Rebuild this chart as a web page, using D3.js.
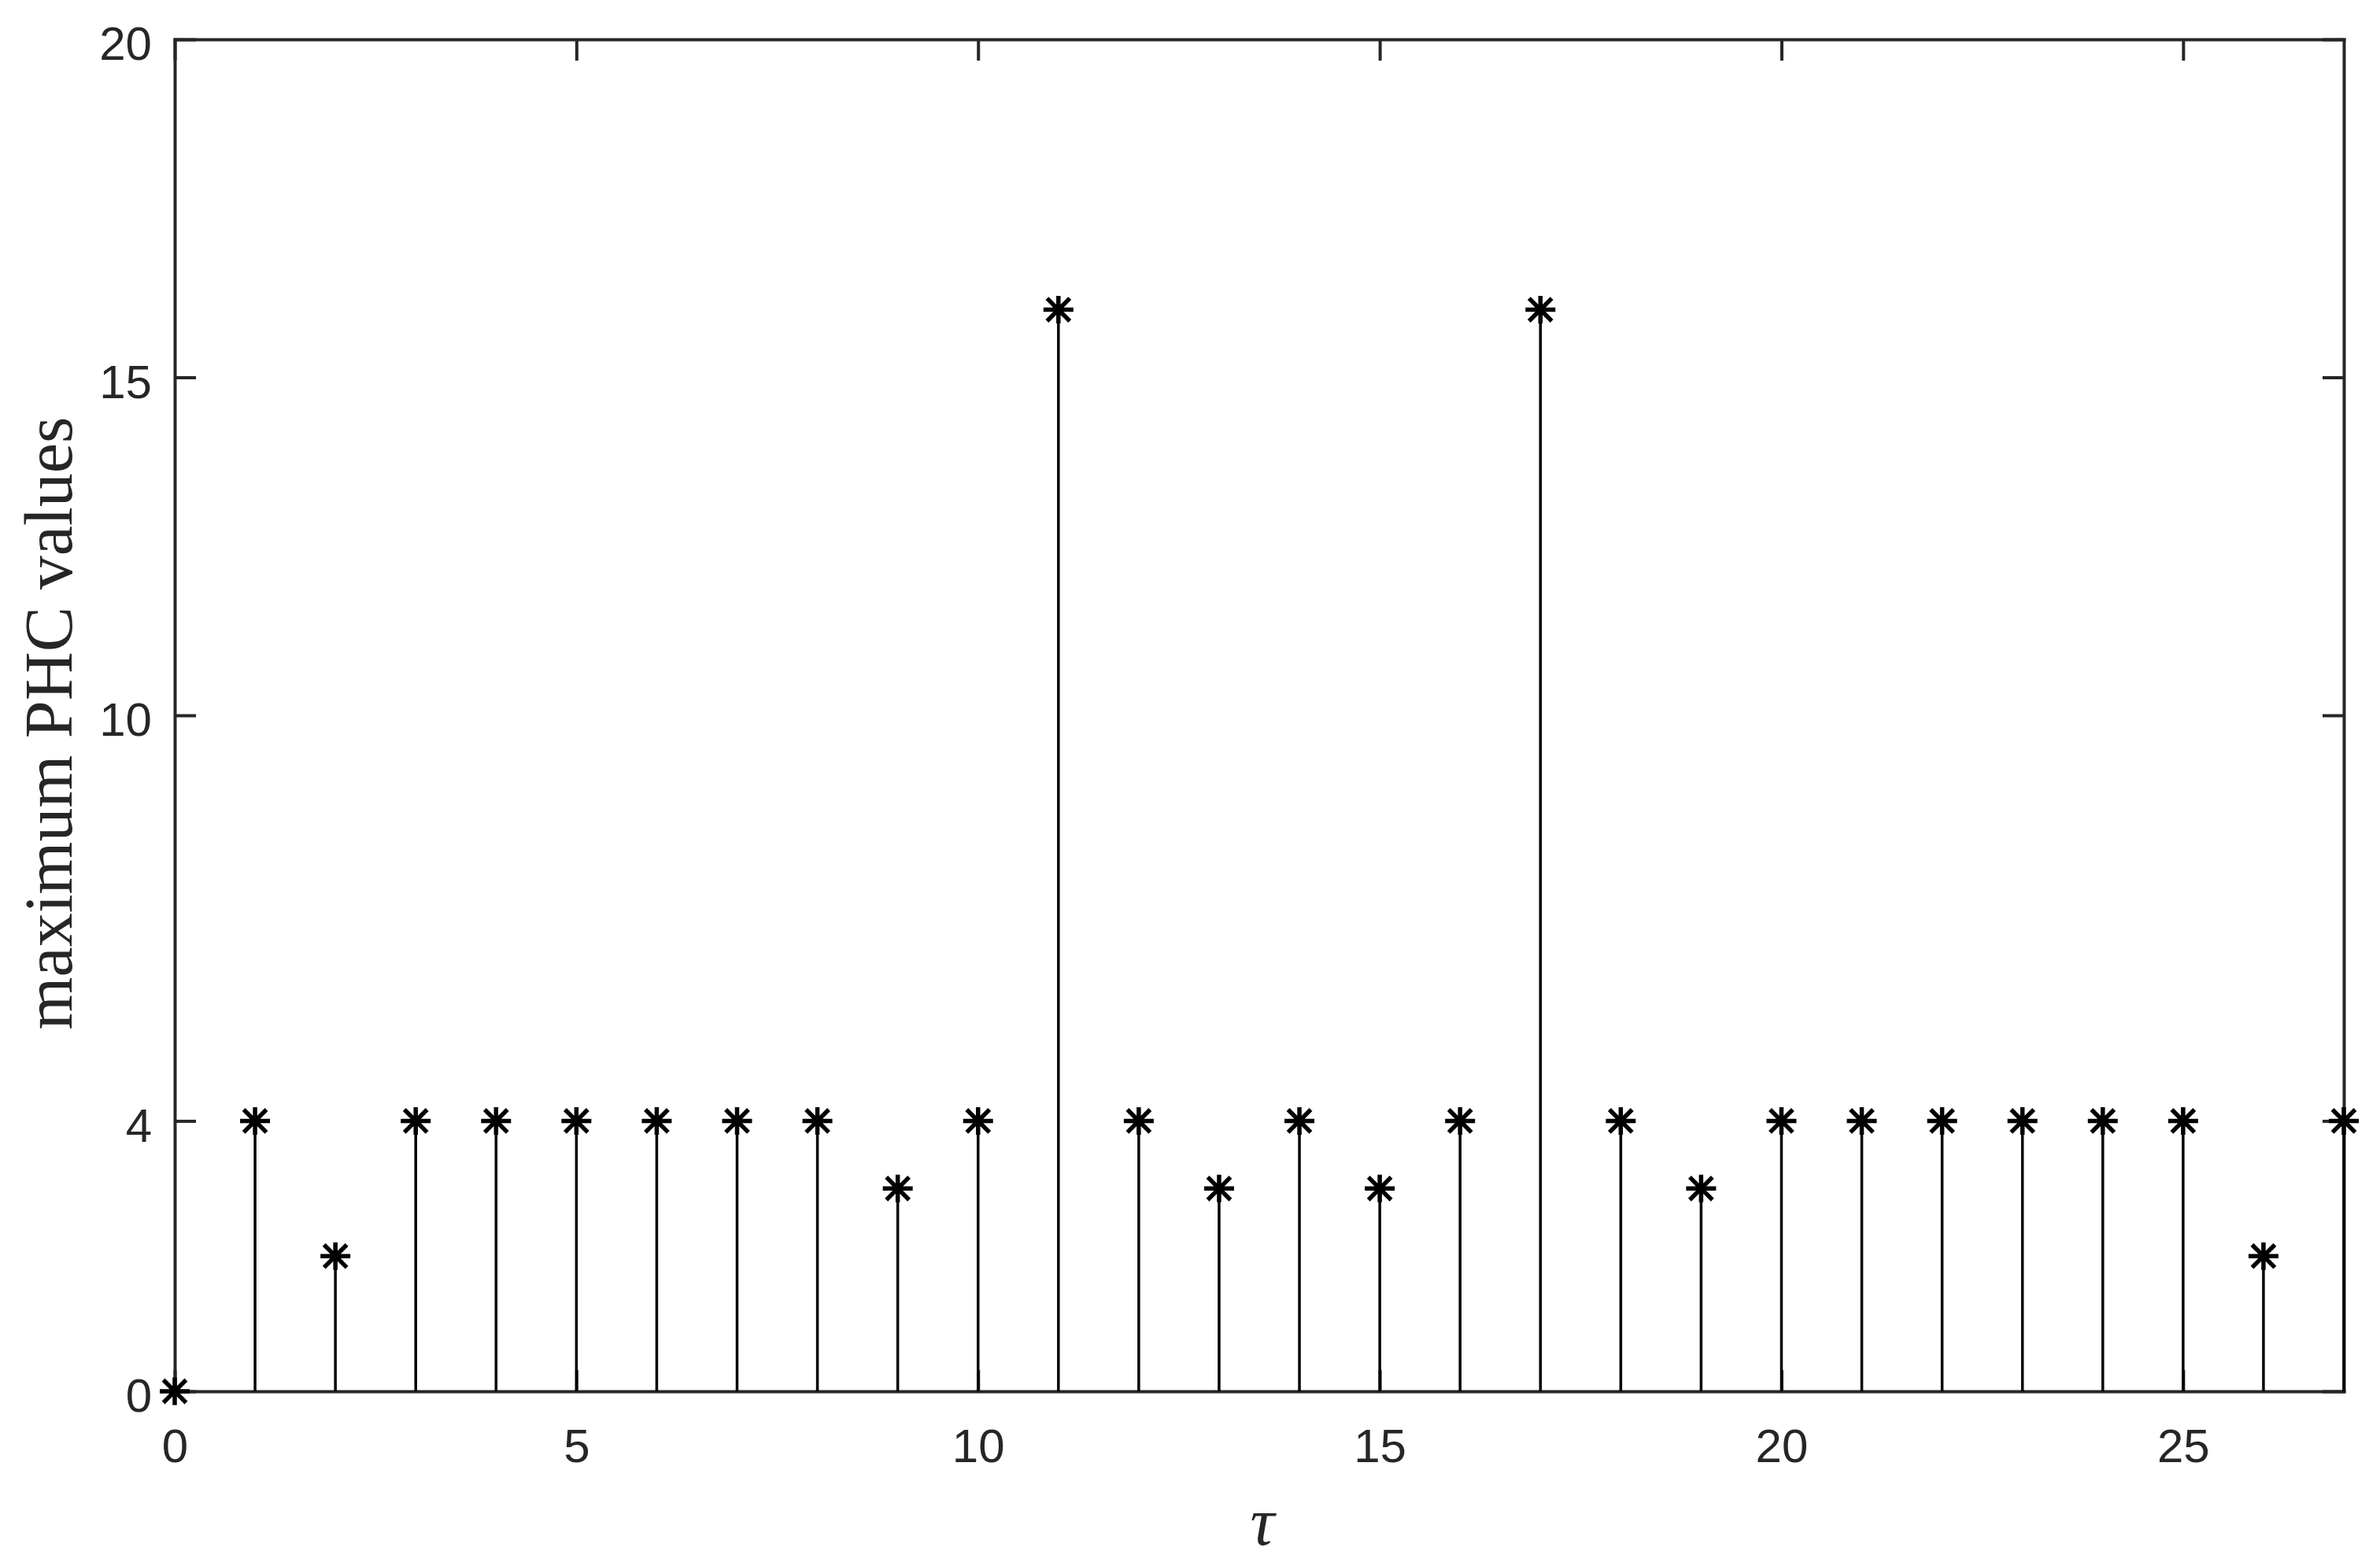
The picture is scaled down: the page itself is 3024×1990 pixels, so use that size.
<!DOCTYPE html>
<html>
<head>
<meta charset="utf-8">
<script src="https://cdn.jsdelivr.net/npm/d3@7"></script>
<style>
  body { margin: 0; background: #fff; }
  .tick text { font-family: "Liberation Sans", Arial, sans-serif; font-size: 60px; fill: #262626; }
</style>
</head>
<body>
<div id="plotholder"></div>
<script>
// lag values and the stem heights
const TAU = [0, 1, 2, 3, 4, 5, 6, 7, 8, 9, 10, 11, 12, 13, 14, 15, 16, 17, 18, 19, 20, 21, 22, 23, 24, 25, 26, 27]
const PHC = [0, 4, 2, 4, 4, 4, 4, 4, 4, 3, 4, 16, 4, 3, 4, 3, 4, 16, 4, 3, 4, 4, 4, 4, 4, 4, 2, 4]
const XTICKS = [0, 5, 10, 15, 20, 25]
const YTICKS = [0, 4, 10, 15, 20]
const XDOMAIN = [0, 27]
const YDOMAIN = [0, 20]

const W = 3024, H = 1990
const margin = { left: 222, right: 46, top: 50, bottom: 222 }
const AXCOL = '#262626'
const TICKLEN = 27

const svg = d3.select('#plotholder').append('svg')
  .attr('width', W)
  .attr('height', H)
  .style('background-color', '#fff')

const x = d3.scaleLinear().domain(XDOMAIN).range([margin.left, W - margin.right])
const y = d3.scaleLinear().domain(YDOMAIN).range([H - margin.bottom, margin.top])

const styleaxis = g => {
  g.select('.domain').attr('stroke', AXCOL).attr('stroke-width', 4).attr('stroke-linecap', 'square')
  g.selectAll('.tick line').attr('stroke', AXCOL).attr('stroke-width', 4)
}

// bottom / left axes with labels, ticks pointing inwards
svg.append('g')
  .attr('transform', `translate(0,${y(0)})`)
  .call(d3.axisBottom(x).tickValues(XTICKS).tickSizeInner(-TICKLEN).tickSizeOuter(0).tickPadding(47))
  .call(styleaxis)

svg.append('g')
  .attr('transform', `translate(${x(0)},0)`)
  .call(d3.axisLeft(y).tickValues(YTICKS).tickSizeInner(-TICKLEN).tickSizeOuter(0).tickPadding(29))
  .call(styleaxis)
  .selectAll('.tick text').attr('dy', '0.43em')

// mirrored top / right axes, ticks only
svg.append('g')
  .attr('transform', `translate(0,${y(20)})`)
  .call(d3.axisTop(x).tickValues(XTICKS).tickSizeInner(-TICKLEN).tickSizeOuter(0).tickFormat(''))
  .call(styleaxis)

svg.append('g')
  .attr('transform', `translate(${x(27)},0)`)
  .call(d3.axisRight(y).tickValues(YTICKS).tickSizeInner(-TICKLEN).tickSizeOuter(0).tickFormat(''))
  .call(styleaxis)

const data = TAU.map((t, i) => ({ t, v: PHC[i] }))

// stems
svg.append('g').selectAll('line')
  .data(data)
  .enter()
  .append('line')
  .attr('x1', d => x(d.t))
  .attr('x2', d => x(d.t))
  .attr('y1', y(0))
  .attr('y2', d => y(d.v))
  .attr('stroke', '#000')
  .attr('stroke-width', 3.5)

// matlab style asterisk: plus and cross on top of each other
const asterisk = (r) => {
  const p = d3.path()
  const q = r * 0.76
  p.moveTo(-r, 0); p.lineTo(r, 0)
  p.moveTo(0, -r * 0.92); p.lineTo(0, r * 0.92)
  p.moveTo(-q, -q); p.lineTo(q, q)
  p.moveTo(-q, q); p.lineTo(q, -q)
  return p.toString()
}

svg.append('g').selectAll('path')
  .data(data)
  .enter()
  .append('path')
  .attr('transform', d => `translate(${x(d.t)},${y(d.v)})`)
  .attr('d', asterisk(19))
  .attr('fill', 'none')
  .attr('stroke', '#000')
  .attr('stroke-width', 5.5)

// axis labels
svg.append('text')
  .attr('x', (x(0) + x(27)) / 2 + 4)
  .attr('y', 1963)
  .attr('text-anchor', 'middle')
  .style('font-family', '"Liberation Serif", "Times New Roman", serif')
  .style('font-style', 'italic')
  .style('font-size', '86px')
  .attr('fill', '#262626')
  .text('τ')

svg.append('text')
  .attr('transform', `translate(91,919) rotate(-90)`)
  .attr('text-anchor', 'middle')
  .style('font-family', '"Liberation Serif", "Times New Roman", serif')
  .style('font-size', '86px')
  .attr('fill', '#262626')
  .text('maximum PHC values')
</script>
</body>
</html>
